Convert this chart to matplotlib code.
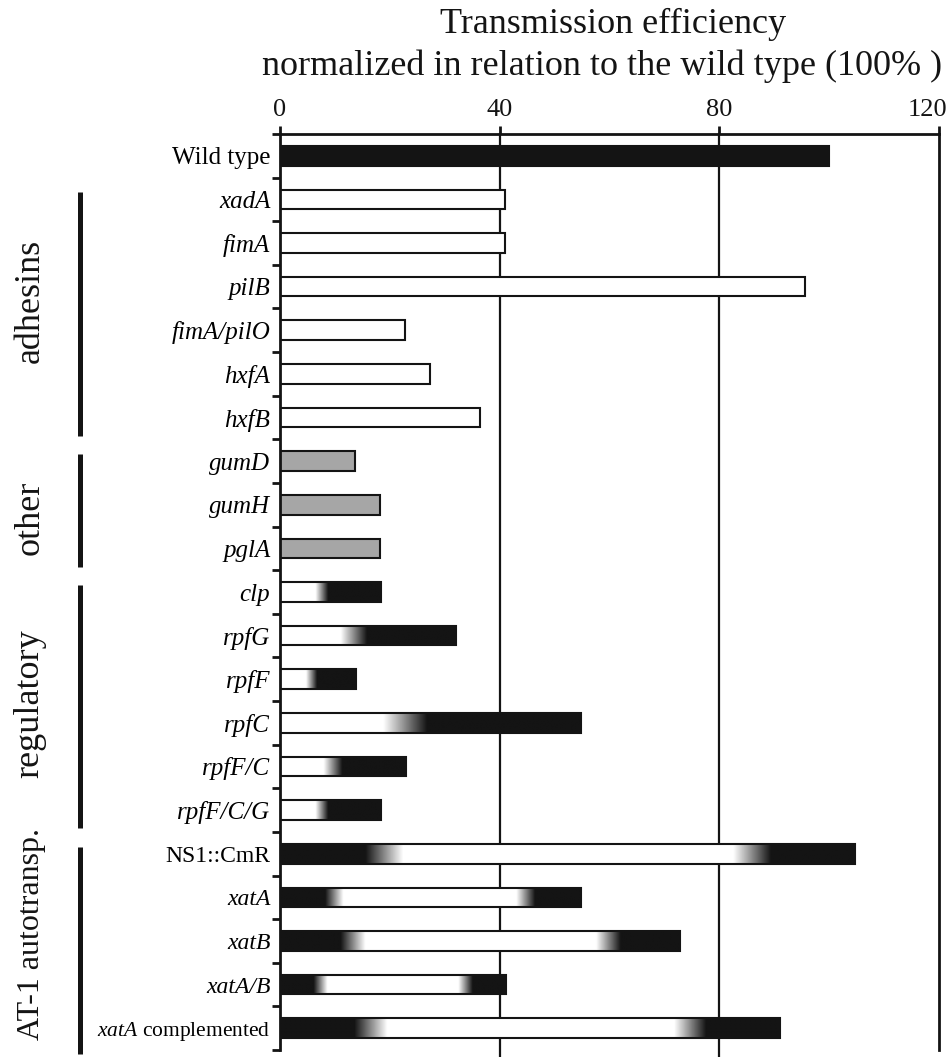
import numpy as np
import matplotlib
matplotlib.use("Agg")
import matplotlib.pyplot as plt
from matplotlib.colors import LinearSegmentedColormap
from matplotlib.transforms import ScaledTranslation, blended_transform_factory

plt.rcParams['font.family'] = ['Liberation Serif', 'DejaVu Serif']
plt.rcParams['mathtext.fontset'] = 'custom'
plt.rcParams['mathtext.rm'] = 'Liberation Serif'
plt.rcParams['mathtext.it'] = 'Liberation Serif:italic'

# ---------------- data ----------------
categories = ["Wild type", "xadA", "fimA", "pilB", "fimA/pilO", "hxfA", "hxfB",
              "gumD", "gumH", "pglA",
              "clp", "rpfG", "rpfF", "rpfC", "rpfF/C", "rpfF/C/G",
              "NS1::CmR", "xatA", "xatB", "xatA/B", "xatA complemented"]
values = [100, 41, 41, 95.6, 22.8, 27.3, 36.4,
          13.7, 18.2, 18.2,
          18.4, 32.1, 13.9, 54.8, 23, 18.4,
          104.7, 54.9, 72.9, 41.2, 91]
fill_kind = ["black"] + ["white"] * 6 + ["gray"] * 3 + ["reg"] * 6 + ["at"] * 5

# regulatory bars: (end of white part, start of black part)
reg_breaks = {"clp": (6.4, 8.7), "rpfG": (11, 15.8), "rpfF": (4.7, 6.7),
              "rpfC": (18.8, 26.8), "rpfF/C": (7.9, 11.3), "rpfF/C/G": (6.4, 8.7)}
# autotransporter bars: (end of black, start of white, end of white, start of black)
at_breaks = {"NS1::CmR": (15.5, 22.4, 82.6, 89.5), "xatA": (8.2, 11.5, 43, 46.4),
             "xatB": (11, 15.5, 57.5, 62), "xatA/B": (6.1, 8.6, 32.4, 35),
             "xatA complemented": (13.5, 19.5, 71.8, 77.6)}

groups = ["adhesins", "other", "regulatory", "AT-1 autotransp."]
group_rows = [(1, 6), (7, 9), (10, 15), (16, 20)]

xticks = [0, 40, 80, 120]
gridlines = [40, 80]

# ---------------- figure ----------------
W, H = 947, 1057
fig = plt.figure(figsize=(W / 100, H / 100), dpi=100)
ax = fig.add_axes([280 / W, 1 - 1050 / H, 659 / W, (1050 - 134) / H])

BLACK = "#141414"
GRAY = "#a6a6a6"
cmap = LinearSegmentedColormap.from_list("bw", [BLACK, "#ffffff"])
bh = 0.45
y = np.arange(len(categories))

for i, (cat, v, kind) in enumerate(zip(categories, values, fill_kind)):
    if kind in ("black", "white", "gray"):
        fc = {"black": BLACK, "white": "white", "gray": GRAY}[kind]
        ax.barh(i, v, height=bh, color=fc, edgecolor=BLACK, linewidth=1.5, zorder=2)
    else:
        xs = np.linspace(0, v, 600)
        if kind == "reg":
            we, bs = reg_breaks[cat]
            lev = np.interp(xs, [0, we, bs, v], [1, 1, 0, 0])
        else:
            be, ws, we, bs = at_breaks[cat]
            lev = np.interp(xs, [0, be, ws, we, bs, v], [0, 0, 1, 1, 0, 0])
        ax.imshow(lev[np.newaxis, :], extent=[0, v, i + bh / 2, i - bh / 2],
                  cmap=cmap, vmin=0, vmax=1, aspect='auto',
                  interpolation='bilinear', zorder=2)
        ax.barh(i, v, height=bh, fill=False, edgecolor=BLACK, linewidth=1.5, zorder=3)

for g in gridlines:
    ax.plot([g, g], [-0.5, len(categories) - 0.35], color=BLACK, lw=1.6,
            zorder=0.5, clip_on=False)

ax.set_xlim(0, 120)
ax.set_ylim(len(categories) - 0.5, -0.5)
ax.set_aspect('auto')

# spines
for s in ["left", "top", "right"]:
    ax.spines[s].set_linewidth(2)
    ax.spines[s].set_color(BLACK)
ax.spines["bottom"].set_visible(False)

# x ticks on top
ax.xaxis.tick_top()
ax.set_xticks(xticks)
ax.set_xticklabels([str(t) for t in xticks])
ax.tick_params(axis='x', which='major', length=6, width=2, pad=3, labelsize=19,
               colors=BLACK, top=True, bottom=False)
xt = ax.get_xticklabels()
xt[-1].set_horizontalalignment('right')
xt[-1].set_transform(xt[-1].get_transform() + ScaledTranslation(8 / 100, 0, fig.dpi_scale_trans))

# y ticks: labels at row centres, tick marks between rows
labels = []
for cat in categories:
    if cat == "xatA complemented":
        labels.append(r"$\mathit{xatA}$ complemented")
    else:
        labels.append(cat)
ax.set_yticks(y)
ax.set_yticklabels(labels)
ax.set_yticks(np.arange(-0.5, len(categories), 1.0), minor=True)
ax.tick_params(axis='y', which='major', length=0, pad=7, labelsize=18)
ax.tick_params(axis='y', which='minor', length=6, width=2, color=BLACK)

for lab, cat, kind in zip(ax.get_yticklabels(), categories, fill_kind):
    if cat in ("Wild type",):
        pass
    elif cat == "NS1::CmR":
        lab.set_fontsize(17)
    elif cat == "xatA complemented":
        lab.set_fontsize(15.5)
    elif kind == "at":
        lab.set_fontstyle('italic')
        lab.set_fontsize(17)
    else:
        lab.set_fontstyle('italic')

# group brackets and labels
trans_fy = blended_transform_factory(fig.transFigure, ax.transData)
label_pos = [3.33, 8.3, 12.55, 17.85]
label_size = [26, 26, 26, 23]
for (r0, r1), name, ly, ls in zip(group_rows, groups, label_pos, label_size):
    y0 = r0 - 0.16
    y1 = r1 + 0.42 if r1 < 20 else r1 + 0.6
    ax.plot([79.5 / W, 79.5 / W], [y0, y1], color=BLACK, lw=3.6,
            transform=trans_fy, clip_on=False, solid_capstyle='butt')
    ax.text(38.5 / W, ly, name, transform=trans_fy, rotation=90,
            rotation_mode='anchor', ha='center', va='baseline', fontsize=ls,
            color=BLACK, clip_on=False)

# title
fig.text(613 / W, 1 - 33 / H, "Transmission efficiency", ha='center',
         va='baseline', fontsize=26, color=BLACK)
fig.text(602 / W, 1 - 75 / H, "normalized in relation to the wild type (100% )",
         ha='center', va='baseline', fontsize=26, color=BLACK)

fig.savefig("out.png", dpi=100)
